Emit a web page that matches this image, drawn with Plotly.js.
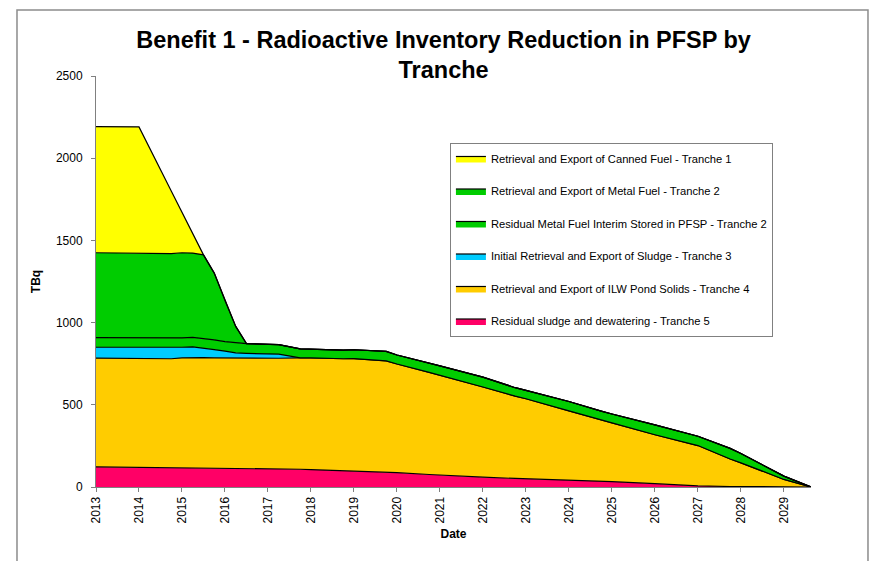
<!DOCTYPE html>
<html>
<head>
<meta charset="utf-8">
<script src="https://cdn.plot.ly/plotly-3.0.1.min.js"></script>
<style>html,body{margin:0;padding:0;background:#fff;}#chart{width:875px;height:561px;}</style>
</head>
<body>
<div id="chart"></div>
<script>
// Decimal-year dates of the data points
var dates = [2013, 2014, 2014.75, 2015, 2015.25, 2015.5, 2015.75, 2016, 2016.25, 2016.5, 2017, 2017.25, 2017.75, 2018, 2018.75, 2019, 2019.75, 2020, 2020.75, 2021, 2022, 2022.75, 2023, 2024, 2024.75, 2025, 2026, 2026.75, 2027, 2027.75, 2028, 2029, 2029.63];

// Series values (TBq) per tranche, stacked bottom (Tranche 5) to top (Tranche 1)
var tranche5 = [122, 120, 118, 117, 116, 116, 115, 114, 113, 112, 111, 110, 108, 106, 100, 97, 90, 87, 76, 72, 60, 52, 50, 41, 35, 33, 20, 10, 7, 3, 2, 0, 0];
var tranche4 = [662, 661, 662, 669, 672, 671, 671, 671, 672, 672, 672, 673, 677, 679, 680, 684, 677, 661, 621, 608, 548, 501, 487, 422, 370, 357, 298, 257, 245, 167, 145, 46, 0];
var tranche3 = [66, 67, 67, 64, 64, 58, 50, 41, 31, 29, 27, 25, 0, 0, 0, 0, 0, 0, 0, 0, 0, 0, 0, 0, 0, 0, 0, 0, 0, 0, 0, 0, 0];
var tranche2Residual = [58, 58, 56, 57, 58, 59, 59, 58, 60, 59, 58, 58, 55, 53, 52, 54, 58, 55, 58, 57, 60, 51, 51, 57, 57, 54, 60, 56, 57, 65, 57, 20, 0];
var tranche2Metal = [517, 515, 516, 518, 513, 508, 406, 250, 101, 0, 0, 0, 0, 0, 0, 0, 0, 0, 0, 0, 0, 0, 0, 0, 0, 0, 0, 0, 0, 0, 0, 0, 0];
var tranche1 = [767, 769, 382, 246, 119, 0, 0, 0, 0, 0, 0, 0, 0, 0, 0, 0, 0, 0, 0, 0, 0, 0, 0, 0, 0, 0, 0, 0, 0, 0, 0, 0, 0];

var seriesNames = [
  "Residual sludge and dewatering - Tranche 5",
  "Retrieval and Export of ILW Pond Solids - Tranche 4",
  "Initial Retrieval and Export of Sludge - Tranche 3",
  "Residual Metal Fuel Interim Stored in PFSP - Tranche 2",
  "Retrieval and Export of Metal Fuel - Tranche 2",
  "Retrieval and Export of Canned Fuel - Tranche 1"
];
var seriesColors = ["#FF0066", "#FFCC00", "#00CCFF", "#00CC00", "#00CC00", "#FFFF00"];
var seriesValues = [tranche5, tranche4, tranche3, tranche2Residual, tranche2Metal, tranche1];

var yearTicks = [2013, 2014, 2015, 2016, 2017, 2018, 2019, 2020, 2021, 2022, 2023, 2024, 2025, 2026, 2027, 2028, 2029];
var yTicks = [0, 500, 1000, 1500, 2000, 2500];

var traces = seriesValues.map(function (vals, i) {
  return {
    type: "scatter",
    mode: "lines",
    x: dates,
    y: vals,
    name: seriesNames[i],
    stackgroup: "inv",
    legendgroup: "g" + i,
    legendrank: seriesValues.length - i,
    fillcolor: seriesColors[i],
    line: { color: "#000000", width: 1.2 },
    hoverinfo: "skip"
  };
});

var font = "Liberation Sans, Arial, sans-serif";

var layout = {
  width: 875,
  height: 561,
  margin: { l: 96, r: 64, t: 76, b: 73.5 },
  paper_bgcolor: "#ffffff",
  plot_bgcolor: "#ffffff",
  font: { family: font, size: 12, color: "#000000" },
  title: {
    text: "<b>Benefit 1 - Radioactive Inventory Reduction in PFSP by<br>Tranche</b>",
    font: { family: font, size: 23.5, color: "#000000" },
    xref: "container", x: 0.507, xanchor: "center",
    yref: "container", y: 0.915, yanchor: "middle"
  },
  showlegend: true,
  legend: {
    x: 0.495, y: 0.837, xanchor: "left", yanchor: "top",
    bordercolor: "#808080", borderwidth: 1, bgcolor: "#ffffff",
    font: { family: font, size: 11.2, color: "#000000" },
    traceorder: "grouped",
    tracegroupgap: 13.5,
    itemwidth: 30
  },
  xaxis: {
    range: [2013, 2029.63],
    tickmode: "array",
    tickvals: yearTicks,
    ticktext: yearTicks.map(String),
    tickangle: -90,
    ticks: "outside", ticklen: 4, tickcolor: "#808080",
    showline: true, linecolor: "#808080", linewidth: 1,
    showgrid: false, zeroline: false,
    tickfont: { family: font, size: 12, color: "#000000" },
    title: { text: "<b>Date</b>", font: { family: font, size: 12, color: "#000000" }, standoff: 7 }
  },
  yaxis: {
    range: [0, 2500],
    tickmode: "array",
    tickvals: yTicks,
    ticks: "outside", ticklen: 4, tickcolor: "#808080",
    ticklabelstandoff: 6,
    showline: true, linecolor: "#808080", linewidth: 1,
    showgrid: false, zeroline: false,
    tickfont: { family: font, size: 12, color: "#000000" },
    title: { text: "<b>TBq</b>", font: { family: font, size: 12, color: "#000000" }, standoff: 12 }
  },
  shapes: [{
    type: "rect", xref: "paper", yref: "paper",
    x0: -0.1105, x1: 1.0797, y0: -0.19, y1: 1.1604,
    line: { color: "#8c8c8c", width: 1.5 }, fillcolor: "rgba(0,0,0,0)", layer: "below"
  }]
};

Plotly.newPlot("chart", traces, layout, { displayModeBar: false, staticPlot: true });
</script>
</body>
</html>
